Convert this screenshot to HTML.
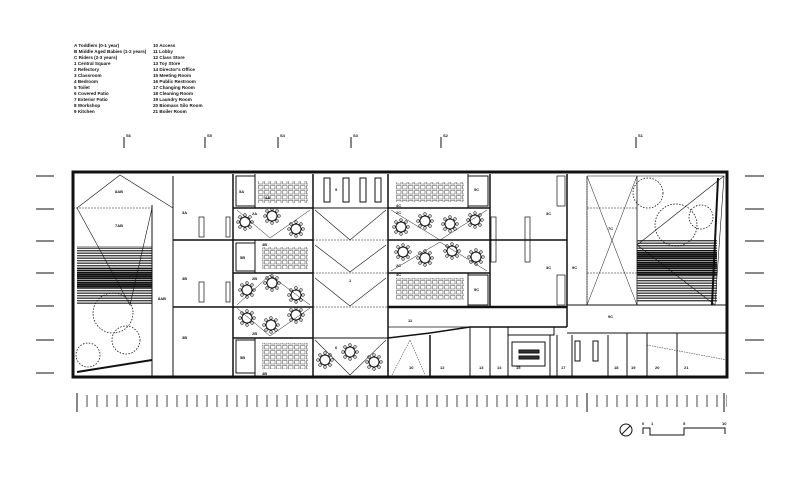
<!DOCTYPE html>
<html><head><meta charset="utf-8"><style>
html,body{margin:0;padding:0;background:#fff;}
svg{display:block;font-family:"Liberation Sans",sans-serif;}
.t{font-size:4.6px;font-weight:bold;}
.l{font-size:4px;font-weight:bold;}
</style></head><body>
<svg width="800" height="487" viewBox="0 0 800 487" xmlns="http://www.w3.org/2000/svg">
<defs>
<pattern id="rt" x="75" y="0" width="10" height="487" patternUnits="userSpaceOnUse"><line x1="2" y1="395" x2="2" y2="407" stroke="#333" stroke-width="0.9"/></pattern>
<pattern id="st" x="0" y="0" width="4" height="2.5" patternUnits="userSpaceOnUse"><rect width="4" height="1.4" fill="#444"/></pattern>
<pattern id="dk" x="0" y="0" width="4" height="2" patternUnits="userSpaceOnUse"><rect width="4" height="1.4" fill="#111"/></pattern>
<pattern id="bed" x="0" y="0" width="6" height="5" patternUnits="userSpaceOnUse"><rect x="0.5" y="0.5" width="4.5" height="3.5" fill="none" stroke="#444" stroke-width="0.5"/></pattern>
<g id="tb"><circle r="5" fill="none" stroke="#111" stroke-width="1"/><circle cx="0" cy="-7" r="1.3" fill="none" stroke="#111" stroke-width=".6"/><circle cx="0" cy="7" r="1.3" fill="none" stroke="#111" stroke-width=".6"/><circle cx="-7" cy="0" r="1.3" fill="none" stroke="#111" stroke-width=".6"/><circle cx="7" cy="0" r="1.3" fill="none" stroke="#111" stroke-width=".6"/><circle cx="5" cy="5" r="1.3" fill="none" stroke="#111" stroke-width=".6"/><circle cx="-5" cy="-5" r="1.3" fill="none" stroke="#111" stroke-width=".6"/><circle cx="5" cy="-5" r="1.3" fill="none" stroke="#111" stroke-width=".6"/><circle cx="-5" cy="5" r="1.3" fill="none" stroke="#111" stroke-width=".6"/></g>
</defs>
<g class="t" fill="#111">
<text x="74" y="47">A Toddlers (0-1 year)</text>
<text x="74" y="53">B Middle Aged Babies (1-2 years)</text>
<text x="74" y="59">C Riders (2-3 years)</text>
<text x="74" y="65">1 Central Square</text>
<text x="74" y="71">2 Refectory</text>
<text x="74" y="77">3 Classroom</text>
<text x="74" y="83">4 Bedroom</text>
<text x="74" y="89">5 Toilet</text>
<text x="74" y="95">6 Covered Patio</text>
<text x="74" y="101">7 Exterior Patio</text>
<text x="74" y="107">8 Workshop</text>
<text x="74" y="113">9 Kitchen</text>
<text x="153" y="47">10 Access</text>
<text x="153" y="53">11 Lobby</text>
<text x="153" y="59">12 Class Store</text>
<text x="153" y="65">13 Toy Store</text>
<text x="153" y="71">14 Director's Office</text>
<text x="153" y="77">15 Meeting Room</text>
<text x="153" y="83">16 Public Restroom</text>
<text x="153" y="89">17 Changing Room</text>
<text x="153" y="95">18 Cleaning Room</text>
<text x="153" y="101">19 Laundry Room</text>
<text x="153" y="107">20 Biomass Silo Room</text>
<text x="153" y="113">21 Boiler Room</text>
</g>
<g stroke="#111" stroke-width="1">
<line x1="124" y1="137" x2="124" y2="148"/><line x1="205" y1="137" x2="205" y2="148"/><line x1="278" y1="137" x2="278" y2="148"/><line x1="351" y1="137" x2="351" y2="148"/><line x1="441" y1="137" x2="441" y2="148"/><line x1="636" y1="137" x2="636" y2="148"/>
<line x1="36" y1="176" x2="54" y2="176"/><line x1="36" y1="209" x2="54" y2="209"/><line x1="36" y1="241" x2="54" y2="241"/><line x1="36" y1="273" x2="54" y2="273"/><line x1="36" y1="306" x2="54" y2="306"/><line x1="36" y1="340" x2="54" y2="340"/><line x1="36" y1="373" x2="54" y2="373"/>
<line x1="745" y1="176" x2="764" y2="176"/><line x1="745" y1="209" x2="764" y2="209"/><line x1="745" y1="241" x2="764" y2="241"/><line x1="745" y1="273" x2="764" y2="273"/><line x1="745" y1="306" x2="764" y2="306"/><line x1="745" y1="340" x2="764" y2="340"/><line x1="745" y1="373" x2="764" y2="373"/>
</g>
<g class="l" fill="#111"><text x="126" y="137">S6</text><text x="207" y="137">S5</text><text x="280" y="137">S4</text><text x="353" y="137">S3</text><text x="443" y="137">S2</text><text x="638" y="137">S1</text></g>
<rect x="75" y="390" width="652" height="22" fill="url(#rt)"/>
<g stroke="#111"><line x1="77" y1="393" x2="77" y2="412"/><line x1="587" y1="393" x2="587" y2="412"/><line x1="724" y1="393" x2="724" y2="412"/></g>
<circle cx="626" cy="430" r="6" fill="none" stroke="#111"/><line x1="622" y1="434" x2="630" y2="426" stroke="#111"/>
<polyline points="643,434 643,428 650,428 650,435 684,435 684,428 725,428 725,434" fill="none" stroke="#111"/>
<g class="l" fill="#111"><text x="642" y="425">0</text><text x="651" y="425">1</text><text x="683" y="425">5</text><text x="722" y="425">10</text></g>

<g fill="none" stroke="#111">
<rect x="73" y="172" width="654" height="205" stroke-width="3"/>
<rect x="77" y="246" width="75" height="58" fill="url(#st)" stroke="none"/>
<rect x="77" y="268" width="75" height="20" fill="url(#dk)" stroke="none"/>
<line x1="73" y1="208" x2="152" y2="208" stroke-dasharray="2,1" stroke-width=".6"/>
<line x1="152" y1="205" x2="152" y2="377" stroke-width="1"/>
<line x1="173" y1="176" x2="173" y2="377" stroke-width="1"/>
<polyline points="77,208 120,175 173,208" stroke-width=".6"/>
<polyline points="77,208 130,305 152,208" stroke-width=".6"/>
<line x1="77" y1="372" x2="152" y2="360" stroke-width="2"/>
<circle cx="113" cy="313" r="20" stroke-dasharray="1.5,1.5" stroke-width=".8"/>
<circle cx="126" cy="340" r="14" stroke-dasharray="1.5,1.5" stroke-width=".8"/>
<circle cx="88" cy="355" r="12" stroke-dasharray="1.5,1.5" stroke-width=".8"/>
<line x1="173" y1="240" x2="233" y2="240" stroke-width="1.5"/><line x1="173" y1="307" x2="233" y2="307" stroke-width="1.5"/>
<rect x="199" y="217" width="5" height="20" stroke-width=".7"/><rect x="199" y="282" width="5" height="20" stroke-width=".7"/>
<rect x="226" y="217" width="4" height="20" stroke-width=".7"/><rect x="226" y="282" width="4" height="20" stroke-width=".7"/>
<line x1="233" y1="174" x2="233" y2="377" stroke-width="1.5"/>
<line x1="313" y1="174" x2="313" y2="377" stroke-width="1.5"/>
<line x1="233" y1="208" x2="313" y2="208" stroke-width="1.5"/>
<line x1="233" y1="240" x2="313" y2="240" stroke-width="1.5"/>
<line x1="233" y1="273" x2="313" y2="273" stroke-width="1.5"/>
<line x1="233" y1="307" x2="313" y2="307" stroke-width="1.5"/>
<line x1="233" y1="338" x2="313" y2="338" stroke-width="1.5"/>
<rect x="236" y="176" width="19" height="30" stroke-width="1"/><rect x="236" y="243" width="19" height="28" stroke-width="1"/><rect x="236" y="340" width="19" height="33" stroke-width="1"/>
<line x1="255" y1="174" x2="255" y2="208"/><line x1="255" y1="240" x2="255" y2="273"/><line x1="255" y1="338" x2="255" y2="377"/>
<rect x="258" y="181" width="50" height="22" fill="url(#bed)" stroke="none"/>
<rect x="262" y="247" width="46" height="22" fill="url(#bed)" stroke="none"/>
<rect x="262" y="343" width="46" height="26" fill="url(#bed)" stroke="none"/>
<polyline points="237,210 270,238 310,210" stroke-width=".5"/>
<polyline points="237,308 270,336 310,308" stroke-width=".5"/>
<polyline points="237,305 270,275 310,305" stroke-width=".5"/>
<line x1="313" y1="208" x2="388" y2="208" stroke-width="1"/>
<line x1="313" y1="338" x2="388" y2="338" stroke-width="1"/>
<line x1="313" y1="240" x2="388" y2="240" stroke-dasharray="2,1" stroke-width=".5"/>
<line x1="313" y1="273" x2="388" y2="273" stroke-dasharray="2,1" stroke-width=".5"/>
<line x1="313" y1="307" x2="388" y2="307" stroke-dasharray="2,1" stroke-width=".5"/>
<polyline points="315,210 350,240 386,210" stroke-width=".6"/>
<polyline points="315,245 350,272 386,245" stroke-width=".6"/>
<polyline points="315,278 350,306 386,278" stroke-width=".6"/>
<polyline points="315,340 350,375 386,340" stroke-width=".6"/>
<rect x="324" y="178" width="6" height="24"/><rect x="343" y="178" width="6" height="24"/><rect x="360" y="178" width="6" height="24"/><rect x="375" y="178" width="6" height="24"/>
<line x1="388" y1="174" x2="388" y2="377" stroke-width="1.5"/>
<line x1="490" y1="174" x2="490" y2="307" stroke-width="1.5"/>
<line x1="388" y1="208" x2="490" y2="208" stroke-width="1.5"/>
<line x1="388" y1="240" x2="567" y2="240" stroke-width="1.5"/>
<line x1="388" y1="273" x2="490" y2="273" stroke-width="1.5"/>
<line x1="388" y1="307" x2="567" y2="307" stroke-width="2.5"/>
<rect x="468" y="176" width="20" height="30"/><rect x="468" y="275" width="20" height="30"/>
<line x1="468" y1="174" x2="468" y2="208"/><line x1="468" y1="273" x2="468" y2="307"/>
<rect x="396" y="182" width="68" height="20" fill="url(#bed)" stroke="none"/>
<rect x="396" y="278" width="68" height="22" fill="url(#bed)" stroke="none"/>
<polyline points="391,210 440,240 487,210" stroke-width=".5"/>
<polyline points="391,271 440,242 487,271" stroke-width=".5"/>
<rect x="525" y="217" width="5" height="45" stroke-width=".7"/>
<rect x="491" y="217" width="5" height="45" stroke-width=".7"/>
<rect x="557" y="176" width="8" height="30" stroke-width=".7"/><rect x="557" y="275" width="8" height="30" stroke-width=".7"/>
<line x1="567" y1="174" x2="567" y2="327" stroke-width="1.5"/>
<line x1="587" y1="176" x2="587" y2="305" stroke-dasharray="1.5,1" stroke-width=".6"/>
<line x1="637" y1="176" x2="637" y2="305" stroke-width=".8"/>
<line x1="567" y1="305" x2="727" y2="305" stroke-width="1"/>
<rect x="637" y="240" width="80" height="62" fill="url(#st)" stroke="none"/>
<rect x="637" y="250" width="80" height="25" fill="url(#dk)" stroke="none"/>
<polyline points="587,176 724,176 715,305 587,305 587,176" stroke-width=".6"/>
<line x1="587" y1="176" x2="637" y2="305" stroke-width=".5"/><line x1="637" y1="176" x2="587" y2="305" stroke-width=".5"/>
<line x1="637" y1="245" x2="715" y2="305" stroke-width=".6"/><line x1="637" y1="245" x2="724" y2="176" stroke-width=".6"/>
<line x1="587" y1="208" x2="637" y2="208" stroke-dasharray="2,1" stroke-width=".5"/><line x1="587" y1="273" x2="637" y2="273" stroke-dasharray="2,1" stroke-width=".5"/>
<circle cx="648" cy="193" r="15" stroke-dasharray="1.5,1.5" stroke-width=".8"/>
<circle cx="676" cy="225" r="21" stroke-dasharray="1.5,1.5" stroke-width=".8"/>
<circle cx="701" cy="217" r="12" stroke-dasharray="1.5,1.5" stroke-width=".8"/>
<line x1="718" y1="178" x2="712" y2="305" stroke-width="2"/>
<line x1="388" y1="327" x2="567" y2="327" stroke-width=".8"/>
<line x1="567" y1="333" x2="727" y2="333" stroke-width="1"/>
<polyline points="388,338 430,333 470,327 567,327" stroke-width="1.5"/>
<line x1="430" y1="335" x2="430" y2="377" stroke-width="1.5"/><line x1="470" y1="327" x2="470" y2="377"/><line x1="490" y1="327" x2="490" y2="377"/><line x1="508" y1="335" x2="508" y2="377"/><line x1="550" y1="335" x2="550" y2="377"/><line x1="557" y1="335" x2="557" y2="377"/><line x1="572" y1="335" x2="572" y2="377"/><line x1="608" y1="335" x2="608" y2="377"/><line x1="627" y1="333" x2="627" y2="377"/><line x1="647" y1="333" x2="647" y2="377"/><line x1="677" y1="333" x2="677" y2="377"/>
<rect x="512" y="342" width="33" height="24"/><rect x="519" y="350" width="20" height="3" fill="#333"/><rect x="519" y="356" width="20" height="3" fill="#333"/>
<rect x="508" y="327" width="46" height="8"/>
<polyline points="392,375 410,340 425,375" stroke-dasharray="1.5,1" stroke-width=".5"/>
<polyline points="647,345 727,360" stroke-dasharray="1.5,1" stroke-width=".5"/>
<rect x="575" y="341" width="5" height="20"/><rect x="593" y="341" width="5" height="20"/>
</g>
<g>
<use href="#tb" x="245" y="222"/><use href="#tb" x="272" y="216"/><use href="#tb" x="296" y="229"/>
<use href="#tb" x="247" y="290"/><use href="#tb" x="272" y="283"/><use href="#tb" x="296" y="295"/>
<use href="#tb" x="247" y="318"/><use href="#tb" x="271" y="325"/><use href="#tb" x="296" y="315"/>
<use href="#tb" x="325" y="360"/><use href="#tb" x="350" y="352"/><use href="#tb" x="374" y="362"/>
<use href="#tb" x="401" y="227"/><use href="#tb" x="425" y="221"/><use href="#tb" x="450" y="224"/><use href="#tb" x="475" y="220"/>
<use href="#tb" x="403" y="252"/><use href="#tb" x="425" y="258"/><use href="#tb" x="452" y="251"/><use href="#tb" x="476" y="257"/>
</g>
<g class="l" fill="#111">
<text x="115" y="193">8AB</text><text x="115" y="227">7AB</text><text x="158" y="300">8AB</text>
<text x="182" y="214">3A</text><text x="182" y="280">3B</text><text x="182" y="339">3B</text>
<text x="239" y="193">5A</text><text x="265" y="199">4A</text><text x="252" y="215">2A</text>
<text x="240" y="259">5B</text><text x="262" y="246">4B</text><text x="252" y="280">2B</text>
<text x="252" y="335">2B</text><text x="240" y="359">5B</text><text x="262" y="375">4B</text>
<text x="335" y="191">9</text><text x="349" y="282">1</text><text x="335" y="349">6</text>
<text x="474" y="191">5C</text><text x="474" y="291">5C</text><text x="396" y="214">2C</text><text x="396" y="267">2C</text><text x="396" y="207">4C</text><text x="396" y="276">4C</text>
<text x="546" y="215">3C</text><text x="546" y="269">3C</text><text x="572" y="269">9C</text><text x="608" y="230">7C</text><text x="608" y="318">9C</text>
<text x="408" y="322">11</text><text x="409" y="369">10</text><text x="440" y="369">12</text><text x="479" y="369">13</text><text x="497" y="369">14</text><text x="516" y="369">15</text><text x="561" y="369">17</text><text x="614" y="369">18</text><text x="631" y="369">19</text><text x="655" y="369">20</text><text x="684" y="369">21</text>
</g>
</svg>
</body></html>
